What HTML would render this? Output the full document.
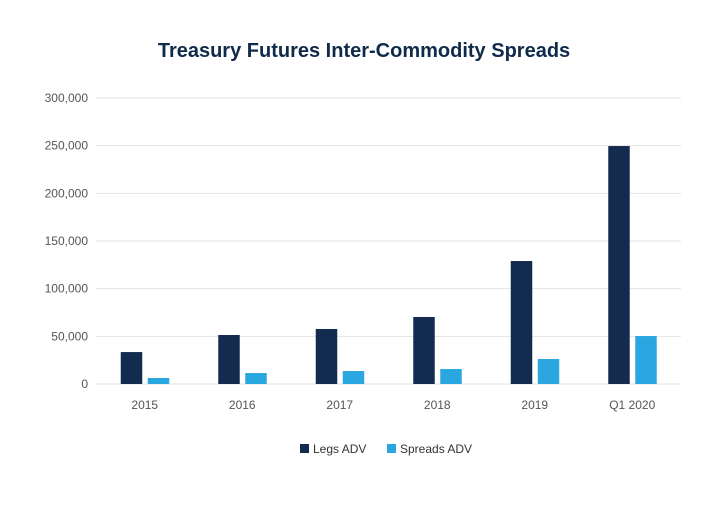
<!DOCTYPE html>
<html><head><meta charset="utf-8"><style>
body{margin:0;background:#fff;font-family:"Liberation Sans",sans-serif}
</style></head><body>
<svg id="chart" width="720" height="500" xmlns="http://www.w3.org/2000/svg">
<rect width="720" height="500" fill="#fff"/>
<text x="364" y="57" text-anchor="middle" font-size="20" font-weight="bold" fill="#0f2a4a">Treasury Futures Inter-Commodity Spreads</text>
<g id="grid"></g><g id="bars"></g><g id="xl"></g>
<g>
<rect x="300" y="444" width="9" height="9" fill="#132b4e"/>
<text x="313" y="453" font-size="12" fill="#333">Legs ADV</text>
<rect x="387" y="444" width="9" height="9" fill="#2aa6e0"/>
<text x="400" y="453" font-size="12" fill="#333">Spreads ADV</text>
</g>
</svg>
<script>
const categories=["2015","2016","2017","2018","2019","Q1 2020"];
const legs=[33500,51400,57700,70300,129000,249600];
const spreads=[6300,11500,13600,15700,26200,50300];
const ticks=[0,50000,100000,150000,200000,250000,300000];
const ns="http://www.w3.org/2000/svg";
const x0=96,x1=681,y0=384,y1=98,ymax=300000;
const y=v=>y0-(v/ymax)*(y0-y1);
const bw=(x1-x0)/categories.length;
function mk(t,a,p){const e=document.createElementNS(ns,t);for(const k in a)e.setAttribute(k,a[k]);p.appendChild(e);return e;}
const g=document.getElementById('grid'),b=document.getElementById('bars'),xl=document.getElementById('xl');
ticks.forEach(t=>{
 const l=mk('line',{x1:x0,x2:x1,y1:y(t),y2:y(t),stroke:'#e3e3e3','stroke-width':1},g);
 
 
 const tx=mk('text',{x:88,y:y(t)+4,'text-anchor':'end','font-size':12,fill:'#555'},g);
 tx.textContent=t.toLocaleString('en-US');
 
 
});
categories.forEach((c,i)=>{
 const cx=x0+bw*(i+0.5);
 const r1=mk('rect',{x:cx-24,y:y(legs[i]),width:21.5,height:y0-y(legs[i]),fill:'#132b4e'},b);
 
 
 const r2=mk('rect',{x:cx+3,y:y(spreads[i]),width:21.5,height:y0-y(spreads[i]),fill:'#2aa6e0'},b);
 
 
 const t=mk('text',{x:cx,y:409,'text-anchor':'middle','font-size':12,fill:'#555'},xl);
 t.textContent=c;
 
 
});
</script>
</body></html>
